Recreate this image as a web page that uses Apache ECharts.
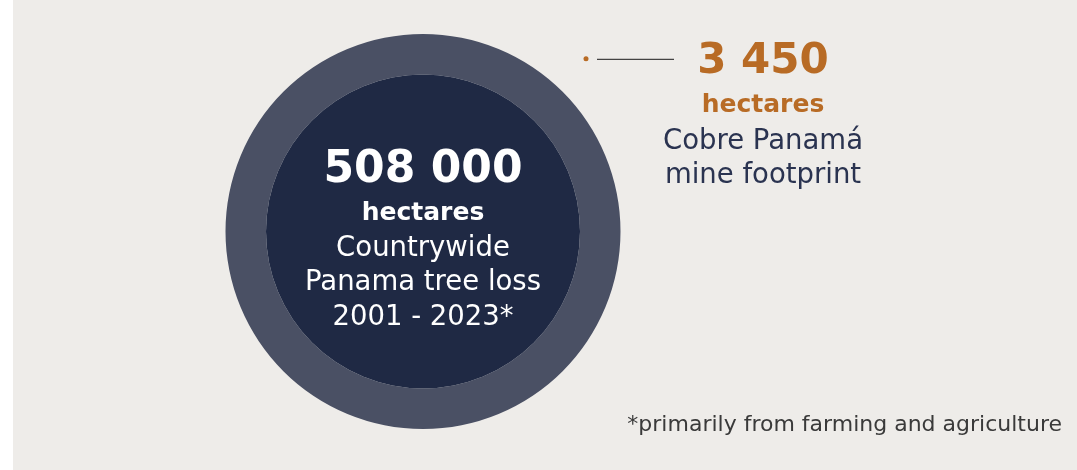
<!DOCTYPE html>
<html><head><meta charset="utf-8">
<script src="https://cdn.jsdelivr.net/npm/echarts@6/dist/echarts.min.js"></script>
<style>html,body{margin:0;padding:0;background:#ffffff;}#c{position:absolute;left:13px;top:0;width:1064px;height:470px;}</style>
</head><body><div id="c"></div>
<script>
// Data
const totals = [508000, 3450];
const totalLabels = ['508 000', '3 450'];
const units = ['hectares', 'hectares'];
const descriptions = [['Countrywide', 'Panama tree loss', '2001 - 2023*'], ['Cobre Panamá', 'mine footprint']];
const footnote = '*primarily from farming and agriculture';

const FONT = 'DejaVu Sans';
const OX = 13;
const chart = echarts.init(document.getElementById('c'));
chart.setOption({
  backgroundColor: '#eeece9',
  animation: false,
  series: [
    {
      type: 'pie', silent: true, center: [423 - OX, 231.5], radius: [157, 197.5],
      label: { show: false }, labelLine: { show: false },
      itemStyle: { color: '#4a5064' },
      data: [{ value: totals[0], name: 'ring' }]
    },
    {
      type: 'pie', silent: true, center: [423 - OX, 231.5], radius: [0, 157],
      itemStyle: { color: '#1f2944' },
      labelLine: { show: false },
      label: {
        show: true, position: 'center', offset: [0, 8],
        formatter: () => ['{a|' + totalLabels[0] + '}', '{b|' + units[0] + '}']
          .concat(descriptions[0].map(d => '{c|' + d + '}')).join('\n'),
        rich: {
          a: { fontFamily: FONT, fontWeight: 'bold', fontSize: 44, color: '#ffffff', lineHeight: 52 },
          b: { fontFamily: FONT, fontWeight: 'bold', fontSize: 25, color: '#ffffff', lineHeight: 35 },
          c: { fontFamily: FONT, fontSize: 27.5, color: '#ffffff', lineHeight: 34.5 }
        }
      },
      data: [{ value: totals[0], name: 'Panama' }]
    },
    {
      type: 'pie', silent: true, center: [586 - OX, 58.7], radius: [0, 2.5],
      itemStyle: { color: '#b86b25' },
      labelLine: { show: false },
      label: {
        show: true, position: 'center', offset: [177, 56.6],
        formatter: () => ['{a|' + totalLabels[1] + '}', '{b|' + units[1] + '}']
          .concat(descriptions[1].map(d => '{c|' + d + '}')).join('\n'),
        rich: {
          a: { fontFamily: FONT, fontWeight: 'bold', fontSize: 42, color: '#b86b25', lineHeight: 49 },
          b: { fontFamily: FONT, fontWeight: 'bold', fontSize: 25, color: '#b86b25', lineHeight: 38 },
          c: { fontFamily: FONT, fontSize: 27.5, color: '#2a3350', lineHeight: 34 }
        }
      },
      data: [{ value: totals[1], name: 'Cobre' }]
    }
  ],
  graphic: [
    { type: 'line', silent: true, shape: { x1: 597 - OX, y1: 59.3, x2: 674 - OX, y2: 59.3 }, style: { stroke: '#1a1a1a', lineWidth: 1 } },
    { type: 'text', silent: true, right: 1077 - 1062, top: 414, style: { text: footnote, fontFamily: FONT, fontSize: 22, fill: '#3a3a3a' } }
  ]
});
</script></body></html>
